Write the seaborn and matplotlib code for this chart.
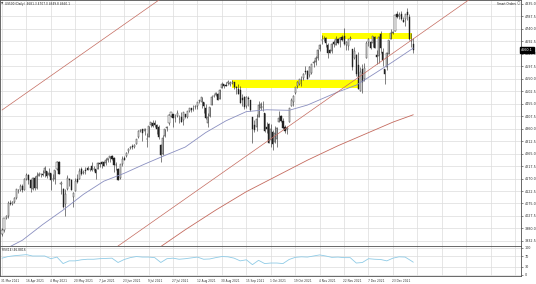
import matplotlib
matplotlib.use("Agg")
import matplotlib.pyplot as plt
import seaborn as sns
import pandas as pd

# ---------------- data ----------------
opens = [3958, 3974, 4020, 4026, 4078, 4074, 4082, 4097, 4125, 4128, 4142, 4126, 4170, 4185, 4163, 4130, 4173, 4135, 4181, 4188,
         4186, 4190, 4200, 4185, 4190, 4170, 4168, 4206, 4233, 4150, 4130, 4073, 4129, 4170, 4166, 4099, 4122, 4168, 4170, 4205,
         4191, 4201, 4210, 4205, 4216, 4207, 4207, 4207, 4229, 4233, 4232, 4228, 4242, 4248, 4256, 4248, 4220, 4205, 4174, 4224,
         4249, 4256, 4274, 4285, 4294, 4291, 4300, 4327, 4352, 4357, 4351, 4321, 4330, 4373, 4382, 4380, 4375, 4367, 4297, 4265,
         4331, 4361, 4382, 4409, 4417, 4402, 4410, 4396, 4406, 4392, 4415, 4406, 4429, 4437, 4436, 4442, 4447, 4464, 4461, 4462,
         4440, 4382, 4410, 4451, 4484, 4490, 4494, 4474, 4514, 4529, 4528, 4534, 4532, 4535, 4536, 4518, 4513, 4506, 4475, 4480,
         4448, 4477, 4470, 4403, 4375, 4367, 4406, 4438, 4443, 4419, 4365, 4376, 4317, 4348, 4310, 4320, 4385, 4407, 4390, 4368,
         4359, 4386, 4448, 4463, 4497, 4524, 4530, 4547, 4553, 4578, 4580, 4563, 4572, 4610, 4614, 4630, 4663, 4699, 4701, 4707,
         4680, 4659, 4655, 4689, 4679, 4701, 4700, 4708, 4712, 4679, 4675, 4701, 4664, 4628, 4640, 4602, 4504, 4589, 4548, 4631,
         4690, 4691, 4688, 4711, 4642, 4637, 4719, 4652, 4587, 4594, 4645, 4703, 4726, 4733, 4795, 4789, 4795, 4775, 4778, 4804,
         4787, 4693, 4681.3]
highs = [3981, 4021, 4031, 4083, 4087, 4083, 4098, 4129, 4131, 4148, 4151, 4173, 4191, 4186, 4169, 4175, 4179, 4195, 4194, 4193,
         4201, 4218, 4200, 4210, 4190, 4187, 4202, 4238, 4236, 4162, 4134, 4131, 4183, 4172, 4170, 4117, 4173, 4189, 4210, 4213,
         4203, 4213, 4218, 4212, 4234, 4218, 4207, 4233, 4232, 4237, 4238, 4249, 4249, 4255, 4258, 4252, 4233, 4211, 4226, 4256,
         4256, 4271, 4286, 4293, 4300, 4302, 4321, 4355, 4358, 4359, 4362, 4343, 4372, 4387, 4392, 4394, 4379, 4375, 4301, 4336,
         4359, 4370, 4415, 4422, 4417, 4416, 4430, 4412, 4422, 4424, 4417, 4429, 4440, 4439, 4449, 4449, 4461, 4468, 4480, 4462,
         4454, 4418, 4444, 4487, 4492, 4501, 4495, 4513, 4537, 4531, 4537, 4546, 4541, 4545, 4536, 4521, 4530, 4521, 4492, 4486,
         4486, 4485, 4471, 4403, 4394, 4416, 4465, 4463, 4464, 4419, 4385, 4383, 4376, 4356, 4369, 4365, 4429, 4413, 4400, 4374,
         4372, 4439, 4476, 4488, 4520, 4540, 4551, 4559, 4573, 4598, 4584, 4597, 4608, 4620, 4636, 4664, 4683, 4718, 4714, 4708,
         4685, 4662, 4688, 4697, 4714, 4701, 4708, 4717, 4743, 4695, 4702, 4712, 4664, 4672, 4646, 4652, 4595, 4608, 4612, 4694,
         4705, 4695, 4713, 4713, 4660, 4712, 4731, 4666, 4587, 4651, 4698, 4741, 4733, 4792, 4808, 4804, 4808, 4787, 4798, 4819,
         4798, 4725, 4707]
lows = [3953, 3967, 4015, 4021, 4068, 4068, 4078, 4092, 4114, 4124, 4120, 4125, 4166, 4150, 4118, 4126, 4127, 4132, 4179, 4176,
        4180, 4176, 4172, 4180, 4128, 4160, 4150, 4201, 4188, 4111, 4056, 4029, 4126, 4143, 4127, 4061, 4121, 4152, 4168, 4182,
        4187, 4188, 4203, 4200, 4197, 4199, 4167, 4205, 4215, 4211, 4218, 4220, 4233, 4234, 4240, 4195, 4203, 4164, 4167, 4217,
        4240, 4254, 4267, 4281, 4283, 4287, 4300, 4326, 4348, 4314, 4336, 4289, 4329, 4365, 4366, 4367, 4340, 4322, 4233, 4259,
        4330, 4350, 4375, 4406, 4368, 4387, 4404, 4382, 4384, 4373, 4400, 4401, 4422, 4424, 4429, 4436, 4436, 4459, 4438, 4418,
        4398, 4367, 4406, 4450, 4482, 4486, 4468, 4472, 4514, 4515, 4522, 4528, 4521, 4530, 4513, 4494, 4492, 4458, 4446, 4434,
        4439, 4448, 4427, 4305, 4346, 4350, 4406, 4431, 4428, 4346, 4342, 4306, 4289, 4278, 4305, 4289, 4385, 4386, 4359, 4342,
        4341, 4386, 4447, 4447, 4494, 4514, 4525, 4524, 4546, 4569, 4551, 4556, 4567, 4595, 4604, 4621, 4655, 4681, 4694, 4670,
        4631, 4648, 4650, 4672, 4679, 4684, 4672, 4694, 4680, 4659, 4660, 4697, 4585, 4625, 4560, 4510, 4504, 4495, 4541, 4631,
        4674, 4665, 4670, 4666, 4606, 4611, 4647, 4600, 4531, 4583, 4645, 4703, 4720, 4733, 4780, 4778, 4775, 4765, 4750, 4774,
        4699, 4671, 4649.8]
closes = [3973, 4020, 4026, 4078, 4074, 4080, 4097, 4129, 4128, 4142, 4125, 4170, 4185, 4163, 4135, 4173, 4135, 4180, 4188, 4186,
          4183, 4211, 4181, 4192, 4165, 4168, 4201, 4233, 4188, 4152, 4063, 4112, 4174, 4163, 4128, 4116, 4159, 4156, 4197, 4188,
          4195, 4200, 4204, 4208, 4202, 4208, 4192, 4230, 4226, 4227, 4219, 4239, 4247, 4255, 4246, 4223, 4222, 4166, 4224, 4246,
          4241, 4266, 4281, 4291, 4291, 4297, 4320, 4352, 4355, 4344, 4358, 4320, 4369, 4384, 4369, 4375, 4360, 4327, 4258, 4323,
          4359, 4368, 4412, 4422, 4401, 4400, 4419, 4395, 4387, 4423, 4403, 4429, 4437, 4432, 4436, 4447, 4460, 4468, 4479, 4448,
          4400, 4405, 4441, 4479, 4486, 4496, 4470, 4509, 4529, 4523, 4524, 4537, 4535, 4537, 4520, 4514, 4493, 4459, 4468, 4443,
          4481, 4474, 4433, 4358, 4354, 4395, 4449, 4455, 4443, 4353, 4360, 4307, 4357, 4300, 4345, 4363, 4399, 4391, 4361, 4350,
          4364, 4438, 4471, 4486, 4519, 4536, 4549, 4545, 4567, 4575, 4551, 4596, 4605, 4613, 4631, 4660, 4680, 4697, 4701, 4686,
          4647, 4649, 4682, 4683, 4700, 4688, 4704, 4698, 4682, 4690, 4701, 4705, 4595, 4655, 4567, 4513, 4577, 4538, 4592, 4686,
          4701, 4667, 4712, 4669, 4634, 4710, 4669, 4621, 4568, 4649, 4697, 4726, 4728, 4792, 4786, 4793, 4778, 4766, 4797, 4794,
          4701, 4696, 4660.1]

date_labels = ["31 Mar 2021", "16 Apr 2021", "4 May 2021", "20 May 2021", "7 Jun 2021", "23 Jun 2021",
               "9 Jul 2021", "27 Jul 2021", "12 Aug 2021", "30 Aug 2021", "15 Sep 2021", "1 Oct 2021",
               "19 Oct 2021", "4 Nov 2021", "22 Nov 2021", "7 Dec 2021", "23 Dec 2021"]
date_label_bars = [0, 12, 24, 36, 48, 60, 72, 84, 96, 108, 120, 132, 144, 156, 168, 180, 192]
grid_bars = [0, 12, 24, 36, 48, 60, 72, 84, 96, 108, 120, 132, 144, 156, 168, 180, 192, 204, 216, 228, 240, 252]

price_ticks = [4835.0, 4787.5, 4740.0, 4692.5, 4645.0, 4597.5, 4550.0, 4502.5, 4455.0, 4407.5,
               4360.0, 4312.5, 4265.0, 4217.5, 4170.0, 4122.5, 4075.0, 4027.5, 3980.0, 3932.5]

ma_fast_bars = [0, 10, 20, 30, 40, 50, 60, 70, 80, 90, 100, 110, 120, 130, 141, 150, 156, 165, 174, 183, 192, 202]
ma_fast_vals = [3895, 3935, 3995, 4050, 4110, 4160, 4190, 4225, 4258, 4290, 4345, 4390, 4425, 4432, 4430, 4450, 4470, 4500,
                4526, 4570, 4615, 4667]
ma_slow_bars = [75, 90, 105, 120, 135, 150, 165, 180, 192, 202]
ma_slow_vals = [3895, 3975, 4050, 4120, 4180, 4240, 4295, 4345, 4385, 4413]

upper_line_bars = [0, 80]
upper_line_vals = [4431, 4866]
lower_line_bars = [50, 240]
lower_line_vals = [3875, 4909]

zones = [(113, 175.5, 4515, 4546), (157, 201.5, 4702, 4725)]

rsi_bars = [0, 3, 6, 9, 12, 15, 18, 21, 24, 27, 30, 33, 36, 39, 42, 45, 48, 51, 54, 57, 60, 63, 66, 69, 72, 75, 78, 81,
            84, 87, 90, 93, 96, 99, 102, 105, 108, 111, 114, 117, 120, 123, 126, 129, 132, 135, 138, 141, 144, 147, 150,
            153, 156, 159, 162, 165, 168, 171, 174, 177, 180, 183, 186, 189, 192, 195, 198, 201, 202]
rsi_vals = [62, 68, 71, 73, 75, 70, 70, 70, 60, 66, 42, 52, 52, 56, 58, 58, 60, 61, 62, 46, 57, 64, 68, 66, 66, 64, 46, 60,
            62, 58, 60, 63, 66, 58, 59, 64, 68, 67, 62, 52, 56, 38, 54, 42, 44, 44, 42, 57, 65, 67, 66, 70, 74, 70, 65, 66,
            64, 64, 44, 46, 60, 58, 57, 52, 62, 67, 66, 52, 47]
rsi_ticks = [100, 70, 30, 0]

# ---------------- figure ----------------
sns.set_theme(style="white")
plt.rcParams["font.family"] = ["DejaVu Sans"]

W, H = 536, 284
fig = plt.figure(figsize=(W / 100, H / 100), dpi=100)
fig.patch.set_facecolor("white")
ax = fig.add_axes([0, 1 - 246 / H, 521 / W, 246 / H])
ax2 = fig.add_axes([0, 1 - 276 / H, 521 / W, 30 / H])

xmin, xmax = -0.98, 254.9
grid_c = "#dcdcdc"
for a in (ax, ax2):
    a.set_xlim(xmin, xmax)
    a.set_facecolor("white")
    for s in a.spines.values():
        s.set_color("#505050")
        s.set_linewidth(0.6)
    a.set_xticks(grid_bars)
    a.tick_params(axis="x", length=0, labelbottom=False)
    a.grid(True, axis="both", color=grid_c, linewidth=0.5)
    a.set_axisbelow(True)
    a.yaxis.tick_right()

ax.set_ylim(3913.1, 4850.2)
ax.set_yticks(price_ticks)
ax.set_yticklabels([f"{v:.1f}" for v in price_ticks])
ax.tick_params(axis="y", length=1.5, width=0.4, pad=1, labelsize=2.4, colors="#303030")

# zones
for b0, b1, p0, p1 in zones:
    ax.fill_between([b0, b1], [p0, p0], [p1, p1], color="#ffff00", linewidth=0, zorder=1)

# candles
df = pd.DataFrame({"o": opens, "h": highs, "l": lows, "c": closes})
df["x"] = range(len(df))
ax.vlines(df["x"], df["l"], df["h"], color="#202020", linewidth=0.4, zorder=3)
bull = df[df["c"] >= df["o"]]
bear = df[df["c"] < df["o"]]
ax.bar(bull["x"], (bull["c"] - bull["o"]).clip(lower=0.8), bottom=bull["o"], width=0.55,
       color="white", edgecolor="#202020", linewidth=0.3, zorder=4)
ax.bar(bear["x"], (bear["o"] - bear["c"]).clip(lower=0.8), bottom=bear["c"], width=0.55,
       color="#202020", edgecolor="#202020", linewidth=0.3, zorder=4)

# moving averages and trend lines
sns.lineplot(x=ma_fast_bars, y=ma_fast_vals, ax=ax, color="#8a8fc0", linewidth=0.6, zorder=5)
sns.lineplot(x=ma_slow_bars, y=ma_slow_vals, ax=ax, color="#c46a5e", linewidth=0.6, zorder=5)
sns.lineplot(x=upper_line_bars, y=upper_line_vals, ax=ax, color="#c46a5e", linewidth=0.5, zorder=5)
sns.lineplot(x=lower_line_bars, y=lower_line_vals, ax=ax, color="#c46a5e", linewidth=0.5, zorder=5)
ax.set_xlim(xmin, xmax)
ax.set_ylim(3913.1, 4850.2)
ax.set_xlabel("")
ax.set_ylabel("")

# current price tag
last = closes[-1]
ax.text(1.0, last, f"{last:.1f}", transform=ax.get_yaxis_transform(), ha="left", va="center",
        fontsize=2.4, color="white", clip_on=False,
        bbox=dict(boxstyle="square,pad=0.25", facecolor="black", edgecolor="black"))

# header texts
fig.text(1 / W, 1 - 2 / H, "\u25bc", fontsize=2.2, color="#404040", va="top", ha="left")
fig.text(5 / W, 1 - 2 / H,
         f"US500 (Daily)  {opens[-1]:.1f} {highs[-1]:.1f} {lows[-1]:.1f} {closes[-1]:.1f}",
         fontsize=2.1, color="#202020", va="top", ha="left")
fig.text(516 / W, 1 - 2 / H, "Smart Orders", fontsize=2.1, color="#202020", va="top", ha="right")
fig.text(517 / W, 1 - 1.5 / H, "\u25cb", fontsize=2.8, color="#606060", va="top", ha="left")

# RSI pane
ax2.set_ylim(-4, 107)
ax2.set_yticks(rsi_ticks)
ax2.set_yticklabels([str(v) for v in rsi_ticks])
ax2.tick_params(axis="y", length=1.5, width=0.4, pad=1, labelsize=2.4, colors="#303030")
sns.lineplot(x=rsi_bars, y=rsi_vals, ax=ax2, color="#8fcbe6", linewidth=0.6)
ax2.set_xlim(xmin, xmax)
ax2.set_ylim(-4, 107)
ax2.set_xlabel("")
ax2.set_ylabel("")
ax2.text(0.004, 0.93, "RSI(14) 46.8816", transform=ax2.transAxes, fontsize=2.1, color="#202020",
         va="top", ha="left")

# date labels
for b, lab in zip(date_label_bars, date_labels):
    ax2.text(b - 0.4, -0.1, lab, transform=ax2.get_xaxis_transform(), fontsize=2.1,
             color="#303030", ha="left", va="top", clip_on=False)

fig.savefig("out.png", dpi=100, facecolor="white")
